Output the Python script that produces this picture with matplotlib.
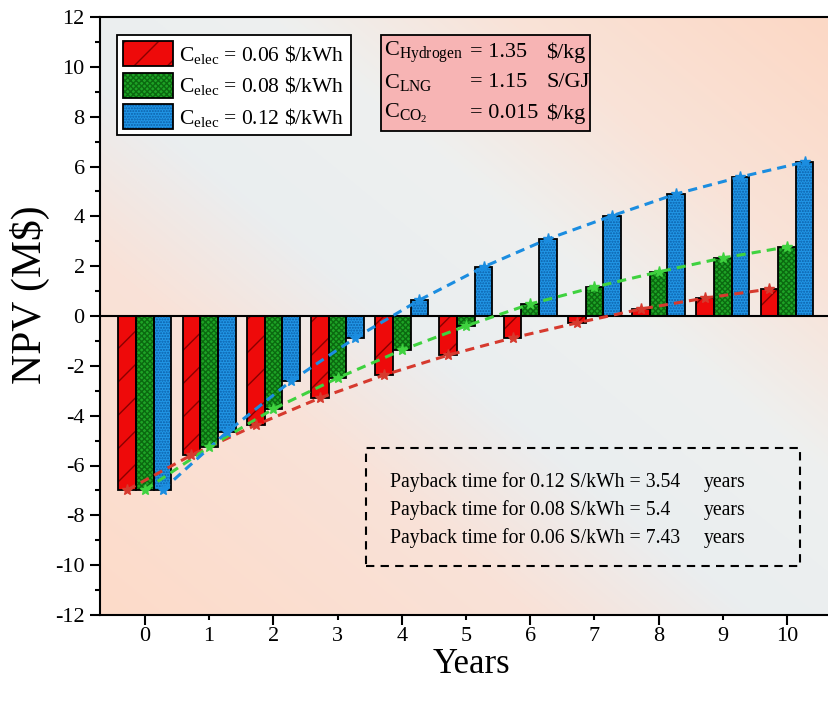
import numpy as np
import matplotlib
matplotlib.use("Agg")
import matplotlib.pyplot as plt
from matplotlib.colors import LinearSegmentedColormap
from matplotlib.patches import Rectangle

plt.rcParams['font.family'] = ['Liberation Serif', 'DejaVu Serif']
plt.rcParams['mathtext.fontset'] = 'custom'
plt.rcParams['mathtext.rm'] = 'Liberation Serif'
plt.rcParams['mathtext.it'] = 'Liberation Serif:italic'
plt.rcParams['axes.unicode_minus'] = False

## data
years = [0, 1, 2, 3, 4, 5, 6, 7, 8, 9, 10]
npv_006 = [-6.98, -5.58, -4.38, -3.29, -2.37, -1.57, -0.88, -0.28, 0.28, 0.72, 1.08]
npv_008 = [-6.98, -5.26, -3.73, -2.49, -1.37, -0.40, 0.48, 1.16, 1.77, 2.33, 2.77]
npv_012 = [-6.98, -4.66, -2.61, -0.88, 0.64, 1.97, 3.09, 4.02, 4.90, 5.58, 6.18]
labels = [r"$\mathrm{C_{elec}}$ = 0.06 \$/kWh",
          r"$\mathrm{C_{elec}}$ = 0.08 \$/kWh",
          r"$\mathrm{C_{elec}}$ = 0.12 \$/kWh"]
payback = [("0.12", "3.54"), ("0.08", "5.4"), ("0.06", "7.43")]

fig = plt.figure(figsize=(8.29, 7.06), dpi=100)
ax = fig.add_axes([100/829, 1-615/706, 729/829, 598/706])

# background gradient (peach -> grey blue -> peach, diagonal)
gx, gy = np.meshgrid(np.linspace(0, 1, 300), np.linspace(0, 1, 300))
u = (gx + gy) / 2
cmap = LinearSegmentedColormap.from_list("bg", [(0, "#fddbc9"), (0.3, "#f9e2d8"), (0.45, "#eaeef0"),
                                                (0.62, "#eef0ef"), (0.78, "#f9e3d8"), (1, "#fcd8c5")])
ax.imshow(u, cmap=cmap, extent=[0, 1, 0, 1], transform=ax.transAxes, origin="lower",
          aspect="auto", zorder=0, interpolation="bilinear")

x = np.array(years, dtype=float)
w = 0.275
series = [
    (npv_006, -w, "#ee0a0a", "#8a0000", "/", "#d63a2e"),
    (npv_008, 0.0, "#1ea326", "#0b6a10", "xxxxxx", "#3fd23f"),
    (npv_012, w, "#2196e6", "#0b5fa8", "......", "#1b8de0"),
]
handles = []
for vals, off, fc, hc, hatch, lc in series:
    b1 = ax.bar(x + off, vals, w, color=fc, edgecolor=hc, hatch=hatch, linewidth=0, zorder=2)
    b2 = ax.bar(x + off, vals, w, fill=False, edgecolor="black", linewidth=1.3, zorder=3)
    ax.plot(x + off, vals, linestyle=(0, (3, 2)), color=lc, linewidth=2.2, zorder=4)
    ax.plot(x + off, vals, linestyle="none", marker="*", color=lc, markersize=8, zorder=5)
    handles.append((b1[0], b2[0]))

ax.axhline(0, color="black", linewidth=1.5, zorder=3)

ax.set_xlim(-0.70, (829 - 145) / 64.2)
ax.set_ylim(-12, 12)
ax.set_yticks(np.arange(-12, 13, 2))
ax.set_yticks(np.arange(-11, 12, 2), minor=True)
ax.set_xticks([0, 2, 4, 6, 8, 10])
ax.set_xticks([1, 3, 5, 7, 9], minor=True)
ax.set_xticklabels(["0", "2", "4", "6", "8", "10"])
ax.set_xticklabels(["1", "3", "5", "7", "9"], minor=True)
ax.tick_params(axis="both", which="major", labelsize=16, direction="out", length=7, width=1.5)
ax.tick_params(axis="both", which="minor", labelsize=16, direction="out", length=3.5, width=1.5)
ax.tick_params(axis="x", which="major", pad=1.5)
ax.tick_params(axis="x", which="minor", pad=5)
ax.tick_params(axis="y", which="major", pad=4)
ax.spines["right"].set_visible(False)
for s in ["left", "bottom", "top"]:
    ax.spines[s].set_linewidth(1.5)

ax.set_ylabel("NPV (M$)", fontsize=30)
ax.yaxis.set_label_coords(-0.068, 0.535)
ax.set_xlabel("Years", fontsize=25)
ax.xaxis.set_label_coords(0.509, -0.056)

leg = ax.legend(handles, labels, loc="upper left", bbox_to_anchor=(0.023, 0.97), fontsize=15.5,
                frameon=True, fancybox=False, edgecolor="black", framealpha=1,
                handlelength=2.3, handleheight=1.4, handletextpad=0.3, labelspacing=0.3,
                borderpad=0.3, borderaxespad=0)
leg.get_frame().set_linewidth(1.3)
leg.set_zorder(10)

# cost box
ax.add_patch(Rectangle((0.385, 0.809), 0.287, 0.161, transform=ax.transAxes,
                       facecolor="#f7b4b4", edgecolor="black", linewidth=1.3, zorder=8))
cost_rows = [(r"$\mathrm{C_{Hydrogen}}$", "= 1.35", r"\$/kg"),
             (r"$\mathrm{C_{LNG}}$", "= 1.15", "S/GJ"),
             (r"$\mathrm{C_{CO_2}}$", "= 0.015", r"\$/kg")]
for i, (name, val, unit) in enumerate(cost_rows):
    yy = 0.941 - i * 0.051
    ax.text(0.389, yy, name, transform=ax.transAxes, fontsize=16, va="center", zorder=9)
    ax.text(0.507, yy, val, transform=ax.transAxes, fontsize=16, va="center", zorder=9)
    ax.text(0.612, yy, unit, transform=ax.transAxes, fontsize=16, va="center", zorder=9)

# payback box
ax.add_patch(Rectangle((0.365, 0.082), 0.595, 0.197, transform=ax.transAxes,
                       facecolor="none", edgecolor="black", linewidth=1.5,
                       linestyle=(0, (4, 3)), zorder=8))
for i, (c, t) in enumerate(payback):
    yy = 0.222 - i * 0.047
    ax.text(0.398, yy, "Payback time for %s S/kWh = %s" % (c, t), transform=ax.transAxes,
            fontsize=14.2, va="center", zorder=9)
    ax.text(0.828, yy, "years", transform=ax.transAxes, fontsize=14.2, va="center", zorder=9)

fig.savefig("out.png", dpi=100)
